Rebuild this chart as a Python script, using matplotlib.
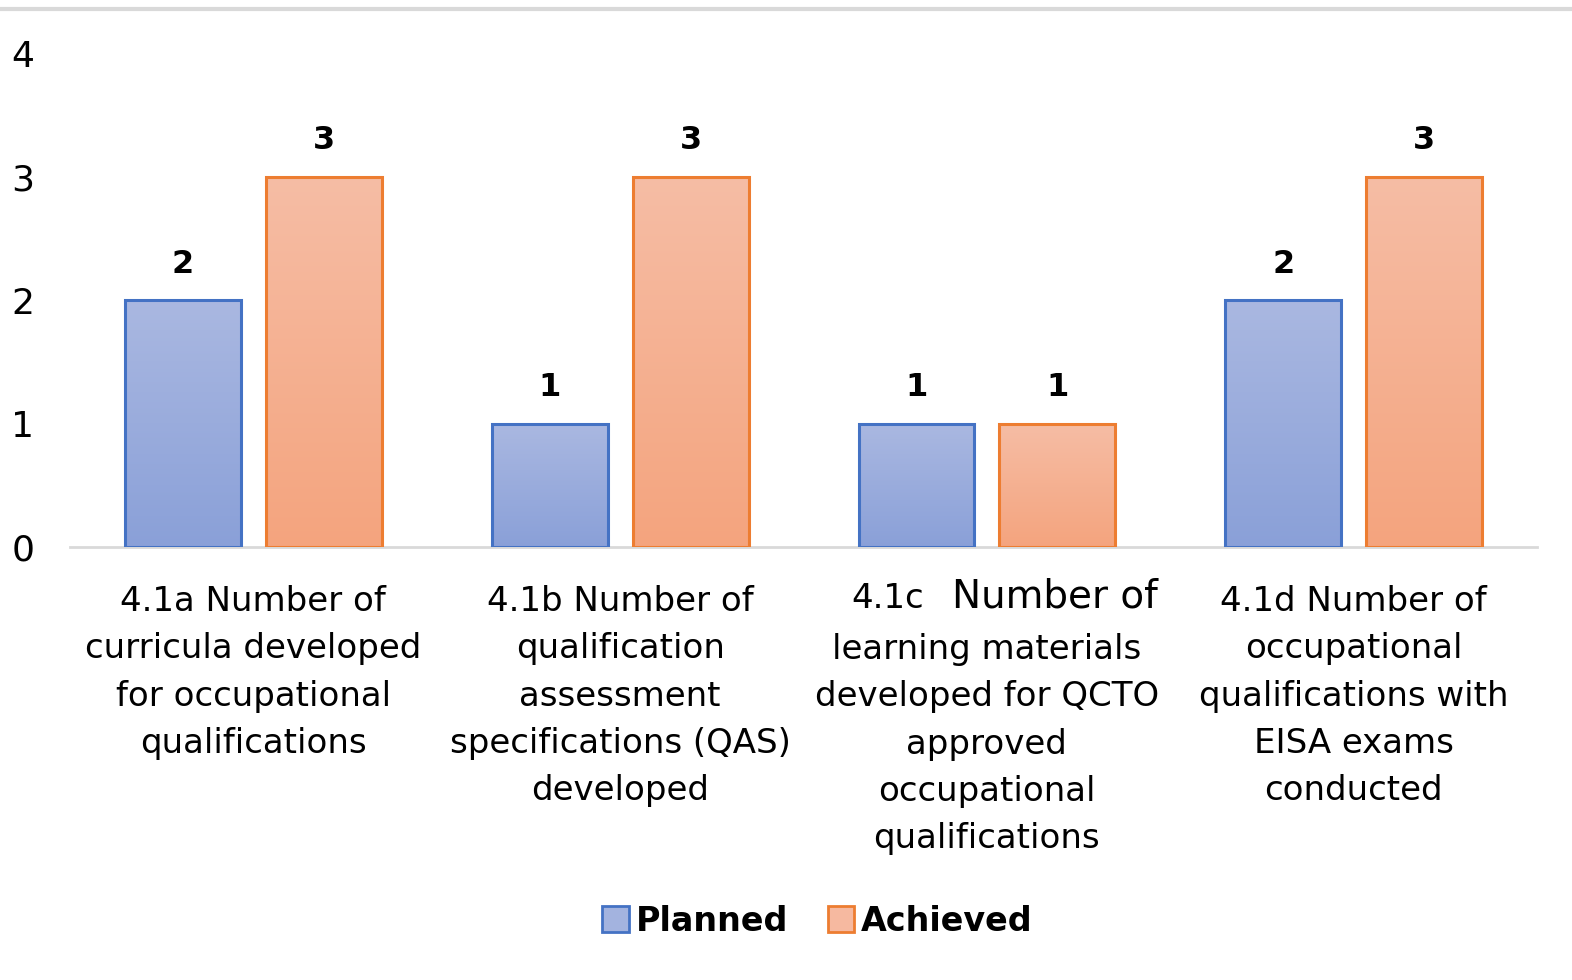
import numpy as np
import matplotlib.pyplot as plt
from matplotlib.colors import LinearSegmentedColormap
from matplotlib.transforms import blended_transform_factory

categories = [
    "4.1a Number of\ncurricula developed\nfor occupational\nqualifications",
    "4.1b Number of\nqualification\nassessment\nspecifications (QAS)\ndeveloped",
    "learning materials\ndeveloped for QCTO\napproved\noccupational\nqualifications",
    "4.1d Number of\noccupational\nqualifications with\nEISA exams\nconducted",
]
planned = [2, 1, 1, 2]
achieved = [3, 3, 1, 3]
series_names = ["Planned", "Achieved"]

plt.rcParams['font.family'] = ['DejaVu Sans']

fig = plt.figure(figsize=(15.72, 9.8), dpi=100)
ax = fig.add_axes([0.0445, 0.4418, 0.9333, 0.5041])

x = np.arange(len(categories))
width = 0.316
offset = 0.192

blue_cmap = LinearSegmentedColormap.from_list("b", ["#8aa0d8", "#aab8e1"])
orange_cmap = LinearSegmentedColormap.from_list("o", ["#f4a47e", "#f6bda5"])
grad = np.linspace(0, 1, 256).reshape(-1, 1)


def gradient_bars(xs, vals, cmap, edge):
    bars = ax.bar(xs, vals, width, facecolor="none", edgecolor=edge,
                  linewidth=2.2, zorder=3)
    for b in bars:
        x0, y0 = b.get_x(), b.get_y()
        ax.imshow(grad, extent=[x0, x0 + b.get_width(), y0, y0 + b.get_height()],
                  origin="lower", cmap=cmap, aspect="auto", zorder=2)
    return bars


pb = gradient_bars(x - offset, planned, blue_cmap, "#4472c4")
ab = gradient_bars(x + offset, achieved, orange_cmap, "#ed7d31")

for bars, vals in [(pb, planned), (ab, achieved)]:
    for b, v in zip(bars, vals):
        ax.text(b.get_x() + b.get_width() / 2, v + 0.29, str(v), ha="center",
                va="center", fontsize=23, fontweight="bold")

ax.set_xlim(-0.5, 3.5)
ax.set_ylim(0, 4)
ax.set_yticks([0, 1, 2, 3, 4])
ax.tick_params(axis="y", length=0, labelsize=26, pad=34)
ax.tick_params(axis="x", length=0)
ax.set_xticks([])
for lbl in ax.get_yticklabels():
    lbl.set_horizontalalignment("center")
for s in ["top", "right", "left"]:
    ax.spines[s].set_visible(False)
ax.spines["bottom"].set_color("#d9d9d9")
ax.spines["bottom"].set_linewidth(2)
ax.set_zorder(1)

# category labels under the axis
tr = blended_transform_factory(ax.transData, ax.transAxes)
for i, txt in enumerate(categories):
    if i == 2:
        ax.text(i, -0.174, txt, transform=tr, ha="center", va="top",
                fontsize=24.5, linespacing=1.55)
        ax.text(i - 0.27, -0.104, "4.1c", transform=tr, ha="center",
                va="center", fontsize=24.5)
        ax.text(i + 0.185, -0.1, "Number of", transform=tr, ha="center",
                va="center", fontsize=28)
    else:
        ax.text(i, -0.077, txt, transform=tr, ha="center", va="top",
                fontsize=24.5, linespacing=1.55)

handles = [plt.Rectangle((0, 0), 1, 1, facecolor="#a3b3df", edgecolor="#4472c4", lw=2),
           plt.Rectangle((0, 0), 1, 1, facecolor="#f6b9a0", edgecolor="#ed7d31", lw=2)]
fig.legend(handles, series_names, loc="center", bbox_to_anchor=(0.52, 0.06),
           ncol=2, frameon=False, handlelength=0.8, handleheight=0.8,
           handletextpad=0.2, columnspacing=1.2,
           prop={"size": 24, "weight": "bold"})

fig.add_artist(plt.Line2D([0, 1], [1 - 9 / 980, 1 - 9 / 980], color="#d9d9d9",
                          lw=3, transform=fig.transFigure))

fig.savefig("out.png", dpi=100, facecolor="white")
